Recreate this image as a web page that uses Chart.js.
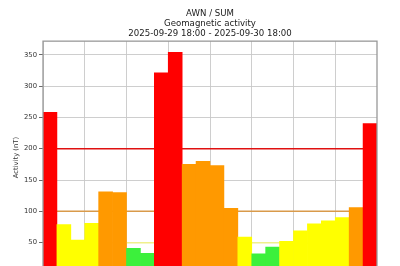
<!DOCTYPE html>
<html>
<head>
<meta charset="utf-8">
<script src="https://cdn.jsdelivr.net/npm/chart.js@4"></script>
<style>
  html, body { margin: 0; padding: 0; background: #fff; overflow: hidden; }
  canvas { display: block; }
</style>
</head>
<body>
<canvas id="awnChart" width="400" height="300"></canvas>
<script>
// hourly slots, 2025-09-29 18:00 .. 2025-09-30 17:00
const hours = ['18:00', '19:00', '20:00', '21:00', '22:00', '23:00', '00:00', '01:00',
    '02:00', '03:00', '04:00', '05:00', '06:00', '07:00', '08:00', '09:00',
    '10:00', '11:00', '12:00', '13:00', '14:00', '15:00', '16:00', '17:00'];
const activity = [258, 79, 54, 81, 131, 130, 41, 33, 321, 354, 175, 180,
    173, 105, 59, 32, 43, 52, 69, 80, 85, 90, 106, 240];
const levels = [50, 100, 200];
const levelColors = ['#f0f08c', '#d99a4a', '#e01010'];
const yTicks = [0, 50, 100, 150, 200, 250, 300, 350];
const titleLines = ['AWN / SUM', 'Geomagnetic activity', '2025-09-29 18:00 - 2025-09-30 18:00'];

function barColor(v) {
    if (v >= 200) return '#ff0000';
    if (v >= 100) return '#ff9900';
    if (v >= 50) return '#ffff00';
    return '#3cf03c';
}

const font = 'DejaVu Sans';

// frame round the plot area (matplotlib spines)
const framePlugin = {
    id: 'frame',
    afterDatasetsDraw(chart) {
        const a = chart.chartArea;
        const c = chart.ctx;
        c.save();
        c.strokeStyle = '#999';
        c.lineWidth = 1.3;
        c.strokeRect(a.left, a.top, a.right - a.left, a.bottom - a.top);
        c.restore();
    }
};

const levelSets = levels.map((lv, i) => ({
    type: 'line',
    data: hours.map(() => lv),
    borderColor: levelColors[i],
    borderWidth: 1.5,
    pointRadius: 0,
    fill: false,
    order: 2
}));

new Chart(document.getElementById('awnChart').getContext('2d'), {
    type: 'bar',
    data: {
        labels: hours,
        datasets: [{
            label: 'Activity (nT)',
            data: activity,
            backgroundColor: activity.map(barColor),
            borderWidth: 0,
            barPercentage: 1,
            categoryPercentage: 1,
            order: 1
        }, ...levelSets]
    },
    options: {
        responsive: false,
        animation: false,
        devicePixelRatio: 1,
        layout: { padding: { left: 0, right: 23, top: 0, bottom: 0 } },
        plugins: {
            legend: { display: false },
            tooltip: { enabled: false },
            title: {
                display: true,
                fullSize: false,
                text: titleLines,
                color: '#1a1a1a',
                font: { family: font, size: 8.6, weight: 'normal', lineHeight: 1.13 },
                padding: { top: 9, bottom: 3 }
            }
        },
        scales: {
            x: {
                offset: true,
                grid: {
                    offset: true,
                    color: ctx => (ctx.index % 3 === 0 ? '#c8c8c8' : 'rgba(0,0,0,0)'),
                    lineWidth: 0.9,
                    tickLength: 4,
                    tickColor: '#444'
                },
                border: { display: false },
                ticks: {
                    autoSkip: false,
                    maxRotation: 0,
                    color: '#333',
                    font: { family: font, size: 6.8 },
                    callback: (v, i) => (i % 3 === 0 ? hours[i] : '')
                },
                afterFit: s => { s.height = 26; }
            },
            y: {
                min: 0,
                max: 371.7,
                afterBuildTicks: s => { s.ticks = yTicks.map(v => ({ value: v })); },
                grid: {
                    color: '#c8c8c8',
                    lineWidth: 0.9,
                    tickLength: 4,
                    tickColor: '#444',
                    tickWidth: 0.8
                },
                border: { display: false },
                ticks: {
                    padding: 2,
                    color: '#333',
                    font: { family: font, size: 6.8 }
                },
                title: {
                    display: true,
                    text: 'Activity (nT)',
                    color: '#333',
                    font: { family: font, size: 6.8 },
                    padding: { top: 12, bottom: 0 }
                },
                afterFit: s => { s.width = 43; }
            }
        }
    },
    plugins: [framePlugin]
});
</script>
</body>
</html>
